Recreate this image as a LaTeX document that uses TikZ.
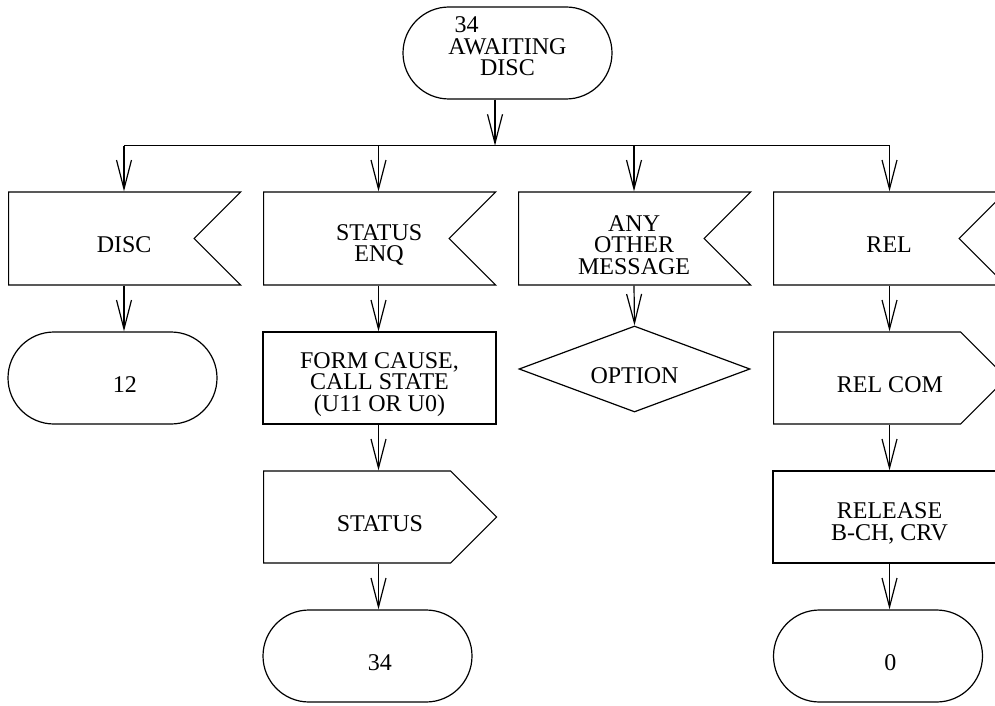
\documentclass[tikz,border=0pt]{standalone}
\usepackage{fontspec}
\setmainfont{Liberation Serif}
\usepackage{tikz}
\usetikzlibrary{shapes}
\usetikzlibrary{arrows.meta}

\tikzset{
  every node/.style={font=\fontsize{12}{10.8}\selectfont},
  flow/.style={-{Straight Barb[length=14.5pt,width=7.5pt]}},
  txt/.style={align=center,yshift=-3.3pt},
  endtxt/.style={txt,xshift=6.2pt},
  sigtxt/.style={txt,xshift=11.4pt},
  statebox/.style={draw,rounded rectangle,minimum width=104.5pt,minimum height=46pt,inner sep=0pt},
  inbox/.style={draw,signal,signal to=nowhere,signal from=east,signal pointer angle=90,minimum width=116pt,minimum height=46.5pt,inner sep=0pt,anchor=west},
  outbox/.style={draw,signal,signal to=east,signal pointer angle=90,minimum width=116.5pt,minimum height=46pt,inner sep=0pt,anchor=west},
  taskbox/.style={draw,rectangle,minimum width=116.5pt,minimum height=46pt,inner sep=0pt},
  optbox/.style={draw,diamond,aspect=2.69,minimum width=115.5pt,minimum height=43pt,inner sep=0pt}
}

\begin{document}
\begin{tikzpicture}[x=0.5pt,y=-0.5pt,line width=0.6pt]
\useasboundingbox (0,0) rectangle (995,706);
\clip (0,0) rectangle (995,706);

% state 34 and the bus under it
\node[statebox,label={[align=center,yshift=3.3pt]center:{34\hspace*{41pt}\\AWAITING\\DISC}}] (s34) at (507.5,53) {};
\coordinate (bus) at (495,145.7);
\coordinate (busL) at (124,145.7);
\coordinate (busR) at (890,145.7);
\draw (busL) -- (busR);
\draw[flow] (bus |- s34.south) -- (bus);

% one column per signal
\coordinate (c1) at (124,0);
\coordinate (c2) at (378.5,0);
\coordinate (c3) at (634,0);
\coordinate (c4) at (889.5,0);

% DISC
\node[inbox,label={[sigtxt]center:DISC}] (disc) at (8,238.5) {};
\node[statebox,label={[endtxt]center:12}] (t12) at (112.5,378) {};
\draw[flow] (c1 |- bus) -- (c1 |- disc.north);
\draw[flow] (c1 |- disc.south) -- (c1 |- t12.north);

% STATUS ENQ
\node[inbox,label={[sigtxt]center:{STATUS\\ENQ}}] (enq) at (263,238.5) {};
\node[taskbox,label={[txt]center:{FORM CAUSE,\\CALL STATE\\(U11 OR U0)}}] (cause) at (379.5,378) {};
\node[outbox,label={[sigtxt]center:STATUS}] (status) at (263,517) {};
\node[statebox,label={[endtxt]center:34}] (t34) at (367.5,656) {};
\draw[flow] (c2 |- bus) -- (c2 |- enq.north);
\draw[flow] (c2 |- enq.south) -- (c2 |- cause.north);
\draw[flow] (c2 |- cause.south) -- (c2 |- status.north);
\draw[flow] (c2 |- status.south) -- (c2 |- t34.north);

% any other message
\node[inbox,label={[sigtxt]center:{ANY\\OTHER\\MESSAGE}}] (other) at (518,238.5) {};
\node[optbox,label={[txt]center:OPTION}] (opt) at (634.5,369) {};
\draw[flow] (c3 |- bus) -- (c3 |- other.north);
\draw[flow] (c3 |- other.south) -- (opt.north);

% REL
\node[inbox,label={[sigtxt]center:REL}] (rel) at (773,238.5) {};
\node[outbox,label={[sigtxt]center:REL COM}] (relcom) at (773,378) {};
\node[taskbox,label={[txt]center:{RELEASE\\B-CH, CRV}}] (release) at (889.5,517) {};
\node[statebox,label={[endtxt]center:0}] (t0) at (878,656) {};
\draw[flow] (c4 |- bus) -- (c4 |- rel.north);
\draw[flow] (c4 |- rel.south) -- (c4 |- relcom.north);
\draw[flow] (c4 |- relcom.south) -- (c4 |- release.north);
\draw[flow] (c4 |- release.south) -- (c4 |- t0.north);
\end{tikzpicture}
\end{document}
